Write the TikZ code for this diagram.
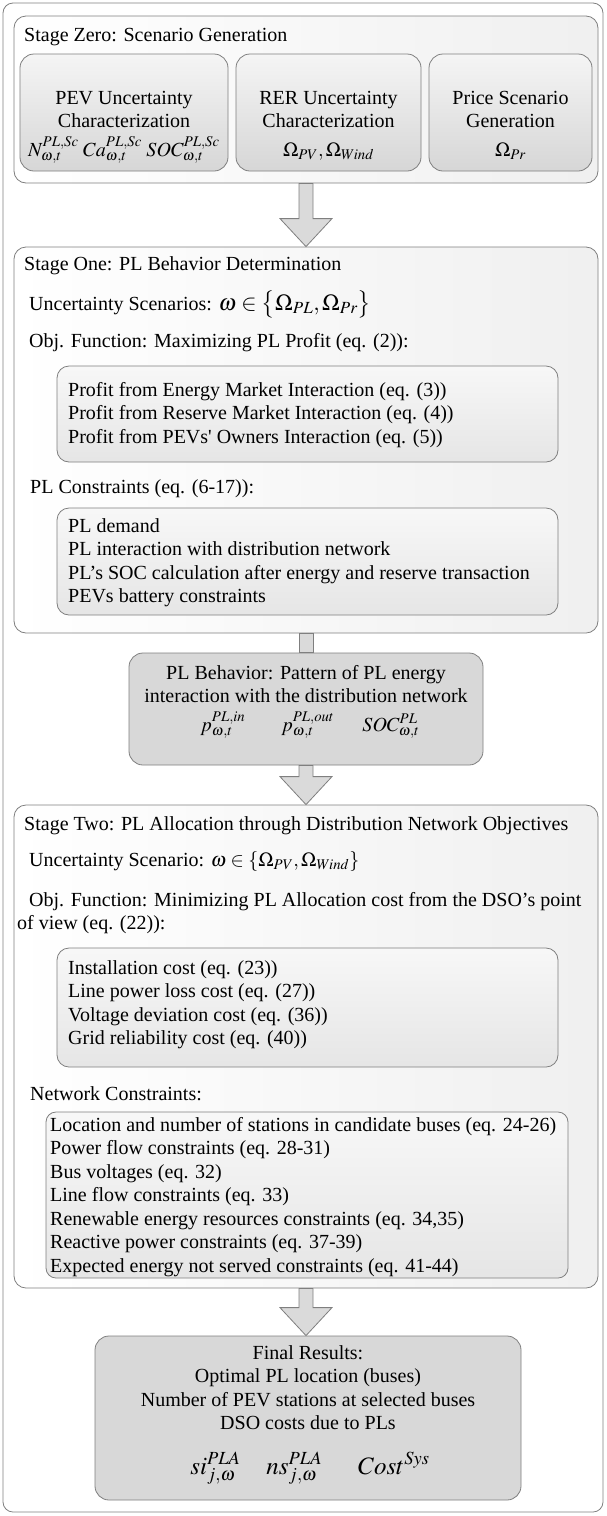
\documentclass[tikz,border=0pt]{standalone}
\usepackage{mathptmx}
\usepackage[no-math]{fontspec}
\setmainfont{Liberation Serif}
\usetikzlibrary{calc,positioning}
\definecolor{edgegray}{HTML}{7F7F7F}
\definecolor{arrowgray}{HTML}{DADADA}
\definecolor{darkbox}{HTML}{D8D8D8}

% fat block arrow from the bottom of one box to the top of the next
\newcommand{\fatarrow}[2]{%
  \filldraw[fat] let \p1=(#1.south), \p2=(#2.north) in
    (\x1-7pt,\y1) -- (\x1-7pt,\y2+28pt) -- (\x1-26pt,\y2+28pt) -- (\x1,\y2)
    -- (\x1+26pt,\y2+28pt) -- (\x1+7pt,\y2+28pt) -- (\x1+7pt,\y1) -- cycle;}

\begin{document}
\begin{tikzpicture}[x=1pt,y=-1pt,
  font=\fontsize{20}{23.5}\selectfont,
  framebox/.style={draw=edgegray,line width=0.8pt,rounded corners=10pt,inner sep=0pt},
  stagebox/.style={draw=edgegray,line width=0.8pt,rounded corners=12pt,
                   left color=white,right color=black!6,inner sep=0pt},
  scenbox/.style={draw=edgegray,line width=0.8pt,rounded corners=14pt,
                  top color=black!4,bottom color=black!16,inner sep=0pt},
  listbox/.style={draw=edgegray,line width=0.8pt,rounded corners=12pt,
                  top color=black!3,bottom color=black!10,inner sep=0pt},
  resbox/.style={draw=edgegray,line width=0.8pt,rounded corners=14pt,
                 fill=darkbox,inner sep=0pt},
  lbl/.style={inner sep=0pt,anchor=base west},
  lines/.style={inner sep=0pt,align=left,anchor=north west},
  mid/.style={inner sep=0pt,align=center,anchor=north},
  sym/.style={inner sep=0pt,anchor=base},
  fat/.style={draw=edgegray,line width=0.8pt,fill=arrowgray}
]
\useasboundingbox (0,0) rectangle (606,1516);

\node[framebox,minimum width=600pt,minimum height=1509pt] (frame) at (303,757.5) {};

% Stage zero
\node[stagebox,minimum width=584pt,minimum height=167pt] (s0) at (306,99.5) {};
\node[lbl] (s0t) at (24,41) {Stage Zero: Scenario Generation};
\node[scenbox,minimum width=208pt,minimum height=117pt] (pev) at (124,112.5) {};
\node[scenbox,minimum width=185pt,minimum height=117pt] (rer) at (328.5,112.5) {};
\node[scenbox,minimum width=163pt,minimum height=117pt] (prc) at (510.5,112.5) {};
\node[mid] (pevt) at (124,91) {PEV Uncertainty\\Characterization};
\node[mid] (rert) at (328.5,91) {RER Uncertainty\\Characterization};
\node[mid] (prct) at (510.5,91) {Price Scenario\\Generation};
\node[sym] (pevm) at (124,156)
  {$N^{PL,Sc}_{\omega,t}\;Ca^{PL,Sc}_{\omega,t}\;SOC^{PL,Sc}_{\omega,t}$};
\node[sym] (rerm) at (328.5,156) {$\Omega_{PV},\Omega_{Wind}$};
\node[sym] (prcm) at (510.5,156) {$\Omega_{Pr}$};

% Stage one
\node[stagebox,minimum width=584pt,minimum height=386pt] (s1) at (306,440) {};
\node[lbl] (s1t) at (24,270) {Stage One: PL Behavior Determination};
\node[lbl] (s1u) at (29,310) {Uncertainty Scenarios:
  {\fontsize{23}{23}\selectfont$\omega\in\bigl\{\Omega_{PL},\Omega_{Pr}\bigr\}$}};
\node[lbl] (s1o) at (29,347) {Obj. Function: Maximizing PL Profit (eq. (2)):};
\node[listbox,minimum width=501pt,minimum height=96pt] (pf) at (307.5,414) {};
\node[lines] (pft) at (68,382) {Profit from Energy Market Interaction (eq. (3))\\
  Profit from Reserve Market Interaction (eq. (4))\\
  Profit from PEVs{\textquotesingle} Owners Interaction (eq. (5))};
\node[lbl] (s1c) at (30,493) {PL Constraints (eq. (6-17)):};
\node[listbox,minimum width=501pt,minimum height=107pt] (pc) at (307.5,561.5) {};
\node[lines] (pct) at (68,518) {PL demand\\PL interaction with distribution network\\
  PL’s SOC calculation after energy and reserve transaction\\PEVs battery constraints};

% PL behaviour
\node[resbox,minimum width=354pt,minimum height=112pt] (bh) at (306,709) {};
\node[mid] (bht) at (306,665) {PL Behavior: Pattern of PL energy\\
  interaction with the distribution network};
\node[sym] (bhm) at (310,731)
  {$p^{PL,in}_{\omega,t}\hspace{36pt}p^{PL,out}_{\omega,t}\hspace{28pt}SOC^{PL}_{\omega,t}$};

% Stage two
\node[stagebox,minimum width=584pt,minimum height=483pt] (s2) at (306,1046.5) {};
\node[lbl] (s2t) at (24,830) {Stage Two: PL Allocation through Distribution Network Objectives};
\node[lbl] (s2u) at (29,866) {Uncertainty Scenario: $\omega\in\{\Omega_{PV},\Omega_{Wind}\}$};
\node[lines] (s2o) at (17,892) {\hspace*{12pt}Obj. Function: Minimizing PL Allocation cost from the DSO’s point\\
  of view (eq. (22)):};
\node[listbox,minimum width=501pt,minimum height=119pt] (cs) at (307.5,1007.5) {};
\node[lines] (cst) at (68,960) {Installation cost (eq. (23))\\Line power loss cost (eq. (27))\\
  Voltage deviation cost (eq. (36))\\Grid reliability cost (eq. (40))};
\node[lbl] (s2c) at (30,1100) {Network Constraints:};
\node[listbox,rounded corners=10pt,minimum width=522pt,minimum height=166pt] (nc) at (307,1195) {};
\node[lines] (nct) at (50,1117) {Location and number of stations in candidate buses (eq. 24-26)\\
  Power flow constraints (eq. 28-31)\\Bus voltages (eq. 32)\\Line flow constraints (eq. 33)\\
  Renewable energy resources constraints (eq. 34,35)\\Reactive power constraints (eq. 37-39)\\
  Expected energy not served constraints (eq. 41-44)};

% Final results
\node[resbox,minimum width=426pt,minimum height=164pt] (fr) at (308,1418) {};
\node[mid] (frt) at (308,1345) {Final Results:\\Optimal PL location (buses)\\
  Number of PEV stations at selected buses\\DSO costs due to PLs};
\node[sym,font=\fontsize{25}{25}\selectfont] (frm) at (310,1474)
  {$si^{PLA}_{j,\omega}\hspace{26pt}ns^{PLA}_{j,\omega}\hspace{36pt}Cost^{Sys}$};

% Arrows between stages
\fatarrow{s0}{s1}
\filldraw[fat] ($(s1.south)+(-7,0)$) rectangle ($(bh.north)+(7,0)$);
\fatarrow{bh}{s2}
\fatarrow{s2}{fr}

\end{tikzpicture}
\end{document}
